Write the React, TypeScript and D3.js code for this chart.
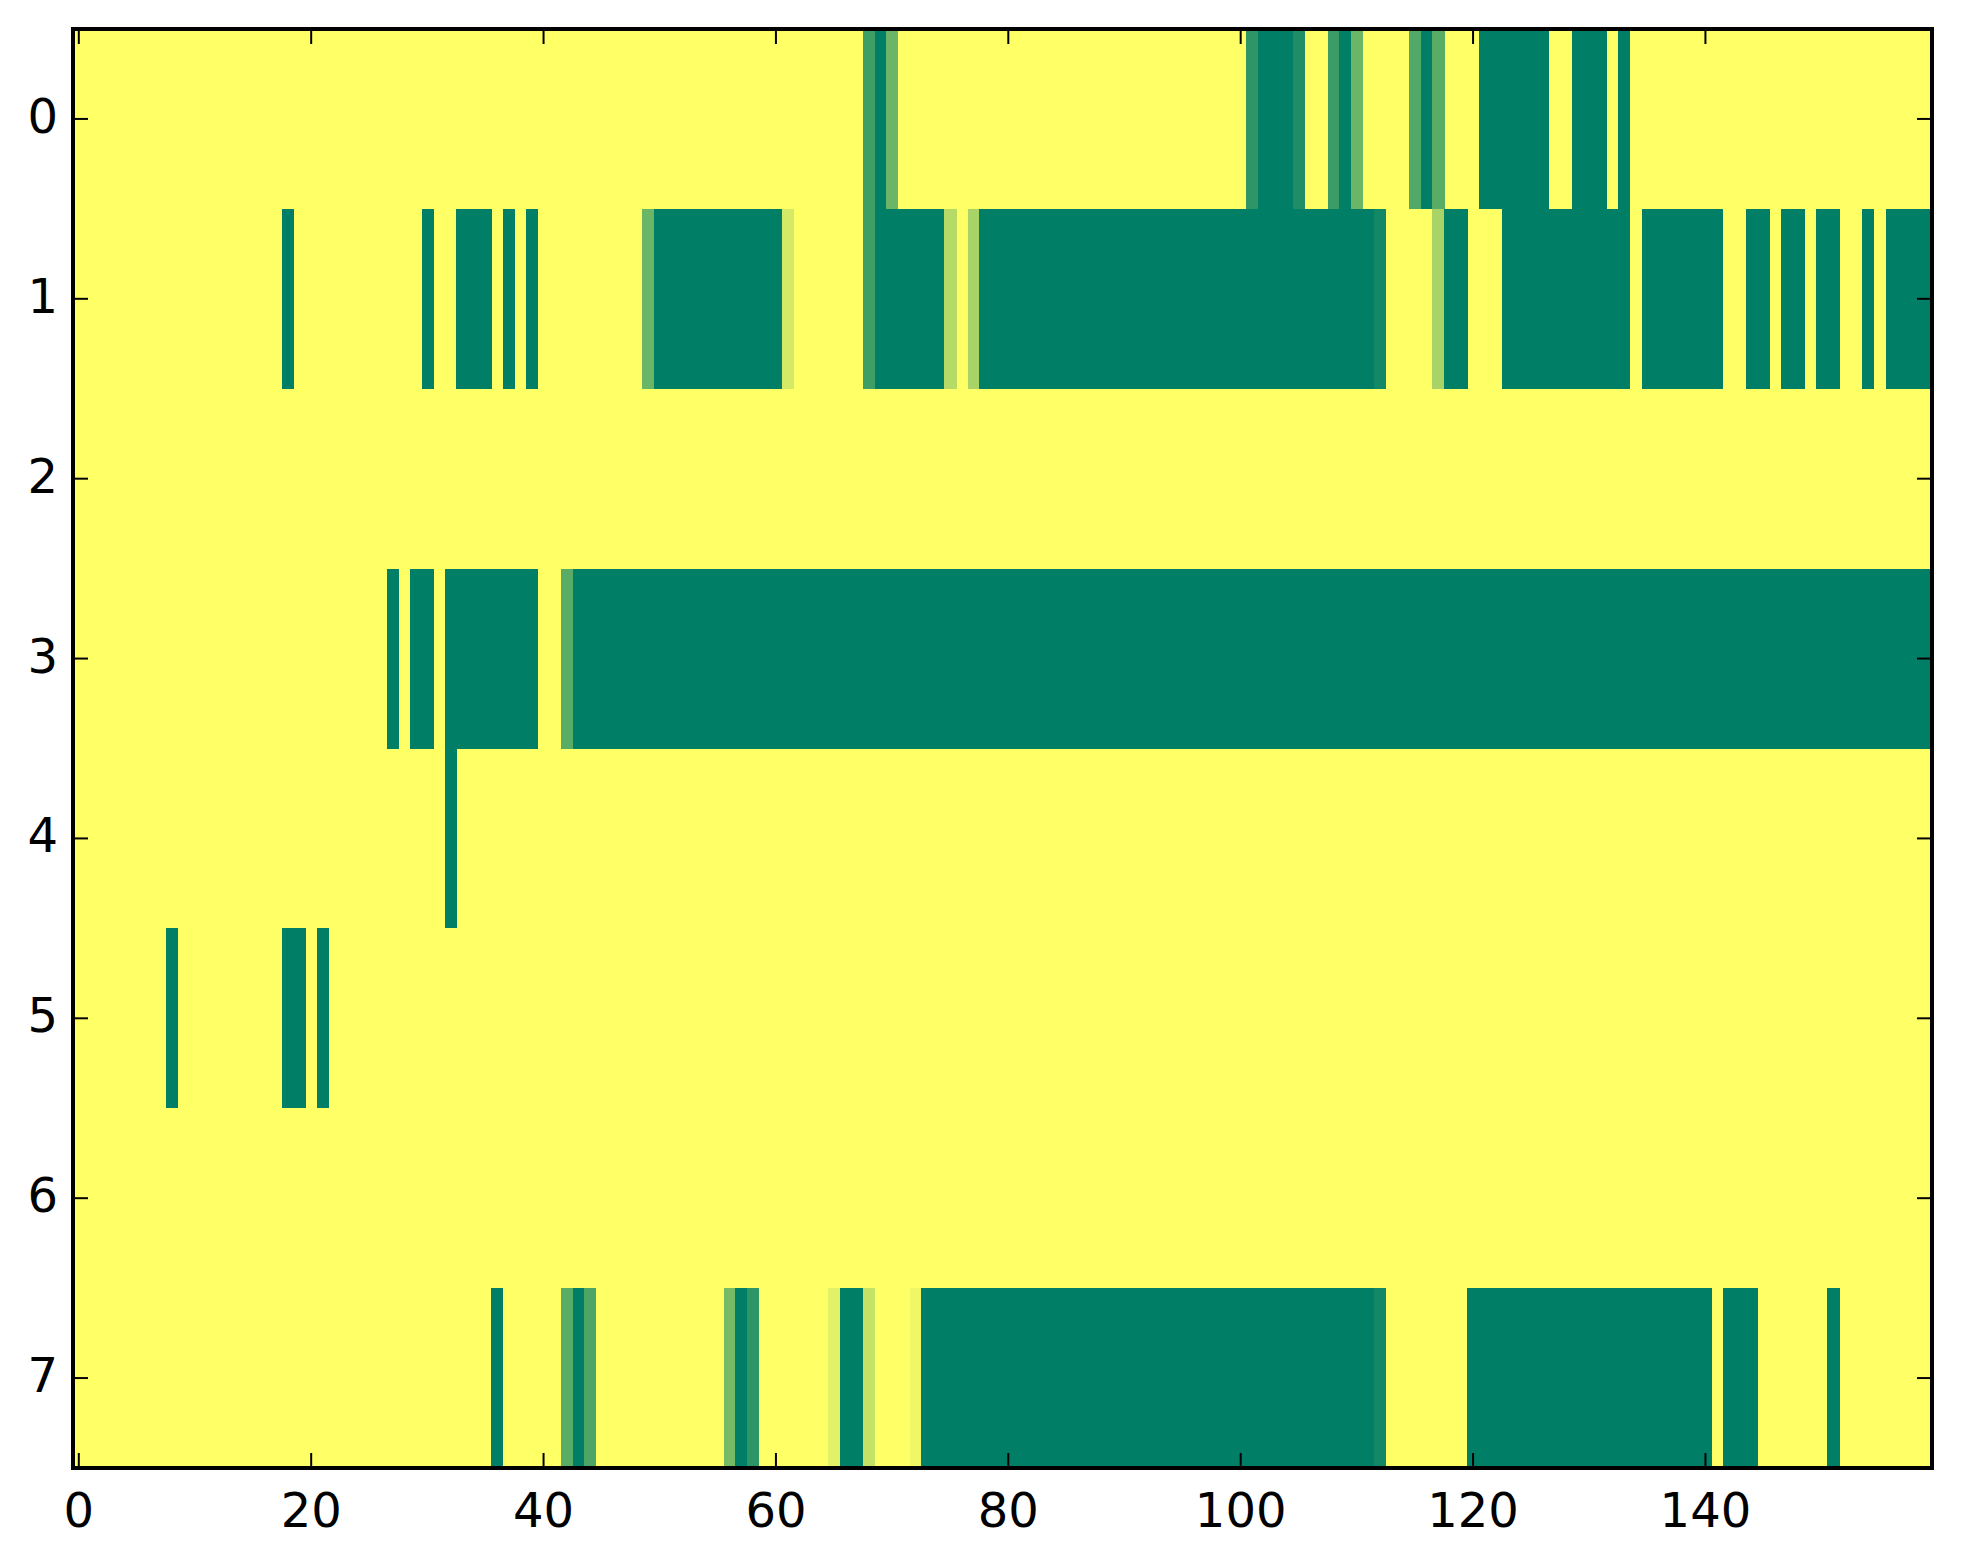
import * as d3 from 'd3';
import { useEffect, useRef } from 'react';

const width = 1963;
const height = 1564;
const plotLeft = 73;
const plotRight = 1932;
const plotTop = 29;
const plotBottom = 1468;

type Run = [number, number, number]; // [first column, last column, value]

const columnCount = 160;
const rowLabels = [0, 1, 2, 3, 4, 5, 6, 7];
const xTicks = [0, 20, 40, 60, 80, 100, 120, 140];

// value 1 = full green, 0 = yellow background
const row0: Run[] = [
  [68, 68, 0.76], [69, 69, 1], [70, 70, 0.58],
  [101, 101, 0.82], [102, 104, 1], [105, 105, 0.88],
  [108, 108, 0.77], [109, 109, 1], [110, 110, 0.58],
  [115, 115, 0.68], [116, 116, 1], [117, 117, 0.65],
  [121, 126, 1], [129, 131, 1], [133, 133, 1],
];
const row1: Run[] = [
  [18, 18, 1], [30, 30, 1], [33, 35, 1], [37, 37, 1], [39, 39, 1],
  [49, 49, 0.58], [50, 60, 1], [61, 61, 0.17],
  [68, 68, 0.76], [69, 74, 1], [75, 75, 0.29], [77, 77, 0.34],
  [78, 111, 1], [112, 112, 0.93], [117, 117, 0.34], [118, 119, 1],
  [123, 133, 1], [135, 141, 1], [144, 145, 1], [147, 148, 1],
  [150, 151, 1], [154, 154, 1], [156, 159, 1],
];
const row2: Run[] = [];
const row3: Run[] = [
  [27, 27, 1], [29, 30, 1], [32, 39, 1], [42, 42, 0.65], [43, 159, 1],
];
const row4: Run[] = [[32, 32, 1]];
const row5: Run[] = [[8, 8, 1], [18, 19, 1], [21, 21, 1]];
const row6: Run[] = [];
const row7: Run[] = [
  [36, 36, 1], [42, 42, 0.65], [43, 43, 1], [44, 44, 0.7],
  [56, 56, 0.53], [57, 57, 1], [58, 58, 0.82],
  [65, 65, 0.11], [66, 67, 1], [68, 68, 0.23], [72, 72, 0.06],
  [73, 111, 1], [112, 112, 0.93], [120, 140, 1], [142, 144, 1], [151, 151, 1],
];
const rows = [row0, row1, row2, row3, row4, row5, row6, row7];

export default function App() {
  const ref = useRef<HTMLDivElement>(null);

  useEffect(() => {
    if (!ref.current) return;

    const x = d3.scaleLinear().domain([-0.5, columnCount - 0.5]).range([plotLeft, plotRight]);
    const y = d3.scaleLinear().domain([-0.5, rowLabels.length - 0.5]).range([plotTop, plotBottom]);
    // summer colormap, reversed
    const color = d3.scaleLinear<string>().domain([0, 1]).range(['#ffff66', '#007f66']);

    const svg = d3
      .create('svg')
      .attr('width', width)
      .attr('height', height)
      .style('position', 'absolute')
      .style('left', '0px')
      .style('top', '0px')
      .style('background', '#fff');

    // background (value 0)
    svg
      .append('rect')
      .attr('x', plotLeft)
      .attr('y', plotTop)
      .attr('width', plotRight - plotLeft)
      .attr('height', plotBottom - plotTop)
      .attr('fill', color(0));

    // cells
    const cells = rows.flatMap((runs, r) =>
      runs.flatMap(([a, b, v]) => d3.range(a, b + 1).map((c) => ({ r, c, v })))
    );
    svg
      .append('g')
      .attr('shape-rendering', 'crispEdges')
      .selectAll('rect')
      .data(cells)
      .join('rect')
      .attr('x', (d) => x(d.c - 0.5))
      .attr('y', (d) => y(d.r - 0.5))
      .attr('width', (d) => x(d.c + 0.5) - x(d.c - 0.5) + 0.5)
      .attr('height', (d) => y(d.r + 0.5) - y(d.r - 0.5))
      .attr('fill', (d) => color(d.v));

    const tickLen = 15;
    const ticks = svg.append('g').attr('stroke', '#000').attr('stroke-width', 2);
    // x ticks, inward on bottom and top
    ticks
      .selectAll('line.xb')
      .data(xTicks)
      .join('line')
      .attr('x1', (d) => x(d))
      .attr('x2', (d) => x(d))
      .attr('y1', plotBottom)
      .attr('y2', plotBottom - tickLen);
    ticks
      .selectAll('line.xt')
      .data(xTicks)
      .join('line')
      .attr('class', 'xt')
      .attr('x1', (d) => x(d))
      .attr('x2', (d) => x(d))
      .attr('y1', plotTop)
      .attr('y2', plotTop + tickLen);
    // y ticks, inward on left and right
    ticks
      .selectAll('line.yl')
      .data(rowLabels)
      .join('line')
      .attr('class', 'yl')
      .attr('x1', plotLeft)
      .attr('x2', plotLeft + tickLen)
      .attr('y1', (d) => y(d))
      .attr('y2', (d) => y(d));
    ticks
      .selectAll('line.yr')
      .data(rowLabels)
      .join('line')
      .attr('class', 'yr')
      .attr('x1', plotRight)
      .attr('x2', plotRight - tickLen)
      .attr('y1', (d) => y(d))
      .attr('y2', (d) => y(d));

    // frame
    svg
      .append('rect')
      .attr('x', plotLeft)
      .attr('y', plotTop)
      .attr('width', plotRight - plotLeft)
      .attr('height', plotBottom - plotTop)
      .attr('fill', 'none')
      .attr('stroke', '#000')
      .attr('stroke-width', 4);

    // tick labels
    const font = 'DejaVu Sans, sans-serif';
    svg
      .append('g')
      .selectAll('text')
      .data(xTicks)
      .join('text')
      .attr('x', (d) => x(d))
      .attr('y', plotBottom + 59)
      .attr('text-anchor', 'middle')
      .attr('font-family', font)
      .attr('font-size', 48)
      .attr('fill', '#000')
      .text((d) => d);
    svg
      .append('g')
      .selectAll('text')
      .data(rowLabels)
      .join('text')
      .attr('x', plotLeft - 15)
      .attr('y', (d) => y(d) + 14)
      .attr('text-anchor', 'end')
      .attr('font-family', font)
      .attr('font-size', 48)
      .attr('fill', '#000')
      .text((d) => d);

    ref.current.innerHTML = '';
    ref.current.appendChild(svg.node()!);
  }, [ref]);

  return <div ref={ref} />;
}
